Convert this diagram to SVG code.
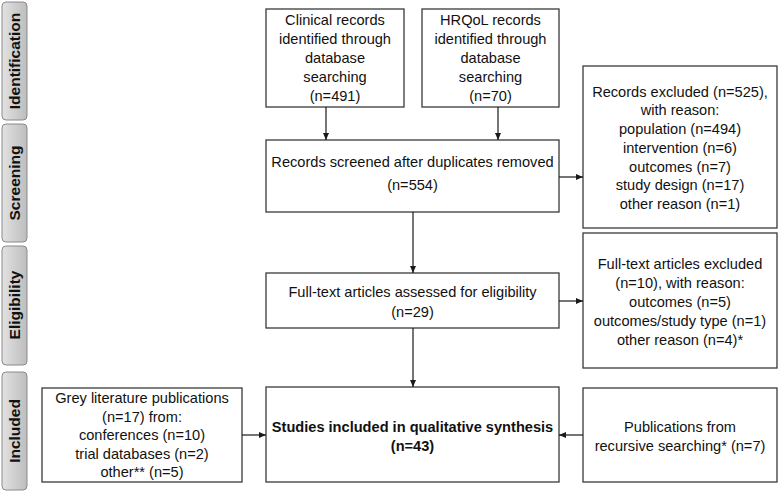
<svg xmlns="http://www.w3.org/2000/svg" width="780" height="493" viewBox="0 0 780 493">
<style>
.box{fill:#fff;stroke:#3a3a3a;stroke-width:1.3}
.tab{fill:url(#g);stroke:#8a8a8a;stroke-width:1}
.t{font-family:"Liberation Sans",Arial,sans-serif;font-size:14.6px;fill:#111;text-anchor:middle}
.b{font-weight:bold}
.tl{font-family:"Liberation Sans",Arial,sans-serif;font-size:15.5px;font-weight:bold;fill:#111;text-anchor:middle}
.c{stroke:#1a1a1a;stroke-width:1.2;fill:none;marker-end:url(#ah)}
</style>
<defs>
<linearGradient id="g" x1="0" y1="0" x2="1" y2="0">
<stop offset="0" stop-color="#e2e2e2"/>
<stop offset="1" stop-color="#bdbdbd"/>
</linearGradient>
<marker id="ah" markerWidth="8" markerHeight="8" refX="7" refY="4" orient="auto" markerUnits="userSpaceOnUse">
<path d="M0,1 L7,4 L0,7 Z" fill="#1a1a1a"/>
</marker>
</defs>

<g id="tab-identification"><rect class="tab" x="2" y="2" width="25" height="118" rx="4"/><text class="tl" transform="translate(20,61) rotate(-90)">Identification</text></g>
<g id="tab-screening"><rect class="tab" x="2" y="124" width="25" height="118" rx="4"/><text class="tl" transform="translate(20,183) rotate(-90)">Screening</text></g>
<g id="tab-eligibility"><rect class="tab" x="2" y="246" width="25" height="119" rx="4"/><text class="tl" transform="translate(20,305) rotate(-90)">Eligibility</text></g>
<g id="tab-included"><rect class="tab" x="2" y="372" width="25" height="118" rx="4"/><text class="tl" transform="translate(20,431) rotate(-90)">Included</text></g>

<g id="clinical"><rect class="box" x="266" y="9" width="138" height="98"/>
<text class="t"><tspan x="335" y="25">Clinical records</tspan><tspan x="335" y="44">identified through</tspan><tspan x="335" y="63">database</tspan><tspan x="335" y="82">searching</tspan><tspan x="335" y="101">(n=491)</tspan></text></g>

<g id="hrqol"><rect class="box" x="422" y="9" width="137" height="98"/>
<text class="t"><tspan x="490.5" y="25">HRQoL records</tspan><tspan x="490.5" y="44">identified through</tspan><tspan x="490.5" y="63">database</tspan><tspan x="490.5" y="82">searching</tspan><tspan x="490.5" y="101">(n=70)</tspan></text></g>

<g id="screened"><rect class="box" x="266" y="140" width="293" height="72"/>
<text class="t"><tspan x="412.5" y="167">Records screened after duplicates removed</tspan><tspan x="412.5" y="190">(n=554)</tspan></text></g>

<g id="excluded"><rect class="box" x="583" y="66" width="194" height="162"/>
<text class="t"><tspan x="680" y="97">Records excluded (n=525),</tspan><tspan x="680" y="115">with reason:</tspan><tspan x="680" y="134">population (n=494)</tspan><tspan x="680" y="153">intervention (n=6)</tspan><tspan x="680" y="172">outcomes (n=7)</tspan><tspan x="680" y="190">study design (n=17)</tspan><tspan x="680" y="209">other reason (n=1)</tspan></text></g>

<g id="fulltext"><rect class="box" x="266" y="273" width="293" height="55"/>
<text class="t"><tspan x="412.5" y="297">Full-text articles assessed for eligibility</tspan><tspan x="412.5" y="317">(n=29)</tspan></text></g>

<g id="ft-excluded"><rect class="box" x="583" y="233" width="194" height="135"/>
<text class="t"><tspan x="680" y="269">Full-text articles excluded</tspan><tspan x="680" y="288">(n=10), with reason:</tspan><tspan x="680" y="307">outcomes (n=5)</tspan><tspan x="680" y="326">outcomes/study type (n=1)</tspan><tspan x="680" y="345">other reason (n=4)*</tspan></text></g>

<g id="included"><rect class="box" x="266" y="387" width="293" height="95"/>
<text class="t b"><tspan x="412.5" y="432">Studies included in qualitative synthesis</tspan><tspan x="412.5" y="451">(n=43)</tspan></text></g>

<g id="recursive"><rect class="box" x="583" y="388" width="194" height="94"/>
<text class="t"><tspan x="680" y="432">Publications from</tspan><tspan x="680" y="451">recursive searching* (n=7)</tspan></text></g>

<g id="grey"><rect class="box" x="42" y="388" width="200" height="94"/>
<text class="t"><tspan x="142" y="403">Grey literature publications</tspan><tspan x="142" y="422">(n=17) from:</tspan><tspan x="142" y="440">conferences (n=10)</tspan><tspan x="142" y="459">trial databases (n=2)</tspan><tspan x="142" y="477">other** (n=5)</tspan></text></g>

<g id="connectors">
<path class="c" d="M326,107 V140"/>
<path class="c" d="M498,107 V140"/>
<path class="c" d="M559,177 H583"/>
<path class="c" d="M413,212 V273"/>
<path class="c" d="M559,301 H583"/>
<path class="c" d="M413,328 V387"/>
<path class="c" d="M242,435 H266"/>
<path class="c" d="M583,435 H559"/>
</g>
</svg>
